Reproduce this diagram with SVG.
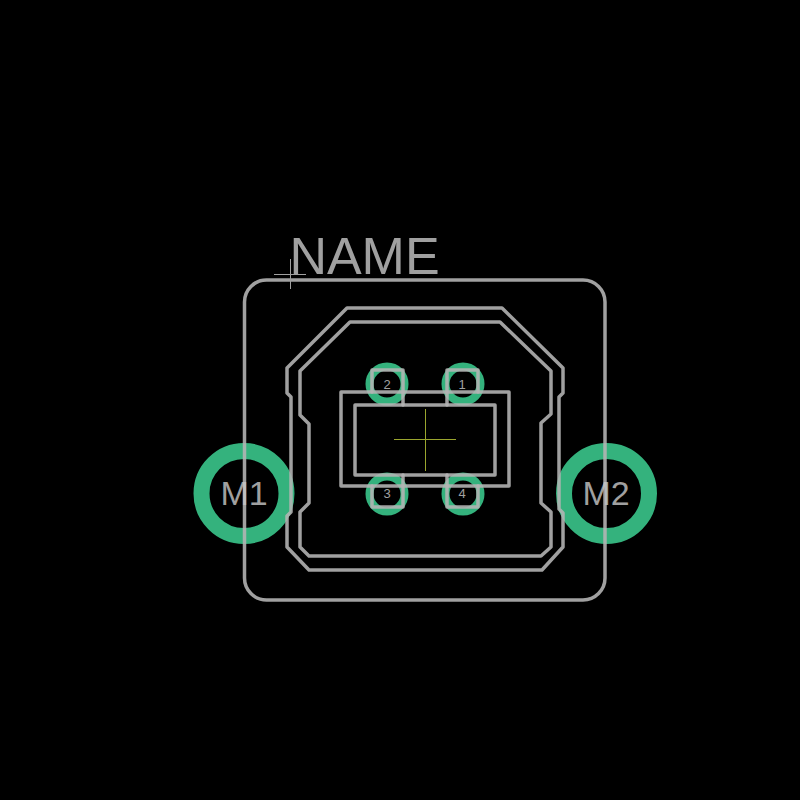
<svg xmlns="http://www.w3.org/2000/svg" width="800" height="800" viewBox="0 0 800 800">
<style>
.bg{fill:#000}
.pad{fill:none;stroke:#34b27d}
.silk{fill:none;stroke:#b4b4b4;stroke-opacity:.89;stroke-width:3.500;stroke-linecap:round;stroke-linejoin:round}
.t{font-family:"Liberation Sans",Arial,sans-serif;fill:#c8c8c8;text-anchor:middle}
.lbl{font-size:34px}
.pin{font-size:13px}
</style>
<rect class="bg" width="800" height="800"/>
<g id="pads">
<circle id="pad-1" class="pad" stroke-width="8" cx="463" cy="384" r="17.5"/>
<circle id="pad-2" class="pad" stroke-width="8" cx="387" cy="384" r="17.5"/>
<circle id="pad-3" class="pad" stroke-width="8" cx="387" cy="494" r="17.5"/>
<circle id="pad-4" class="pad" stroke-width="8" cx="463" cy="494" r="17.5"/>
<circle id="pad-M1" class="pad" stroke-width="16" cx="244" cy="493.500" r="42.500"/>
<circle id="pad-M2" class="pad" stroke-width="16" cx="606.500" cy="493.500" r="42.500"/>
</g>
<g id="outline">
<rect class="silk" x="244.500" y="280" width="360.500" height="320" rx="22" ry="22"/>
<path class="silk" d="M347 308H502L563 368V393L559 397V509L563 513V547L542 570H309L287 547V516L291 512V397L287 393V368Z"/>
<path class="silk" d="M350 322H500L551 371V414L541 423V503L551 512V547L541 556H309L300 547V512L309 503V424L300 415V371Z"/>
<rect class="silk" x="341" y="392" width="168" height="94"/>
<rect class="silk" x="355" y="405" width="140" height="70"/>
<path class="silk" d="M372 392V370H403V405M447 405V370H478V392M372 486V507H403V475M447 475V507H478V486"/>
</g>
<g id="origins" fill="none" stroke-width="1">
<path stroke="#9aa52e" d="M394 439.500H456M425.500 409V471"/>
<path stroke="#a0a0a0" d="M274 274.500H306M290.500 259V289"/>
</g>
<g id="labels" opacity=".8">
<text class="t" x="364.500" y="274" font-size="52">NAME</text>
<text class="t lbl" x="244" y="505">M1</text>
<text class="t lbl" x="606" y="505">M2</text>
<text class="t pin" x="387" y="389">2</text>
<text class="t pin" x="462" y="389">1</text>
<text class="t pin" x="387" y="498">3</text>
<text class="t pin" x="462" y="498">4</text>
</g>
</svg>
